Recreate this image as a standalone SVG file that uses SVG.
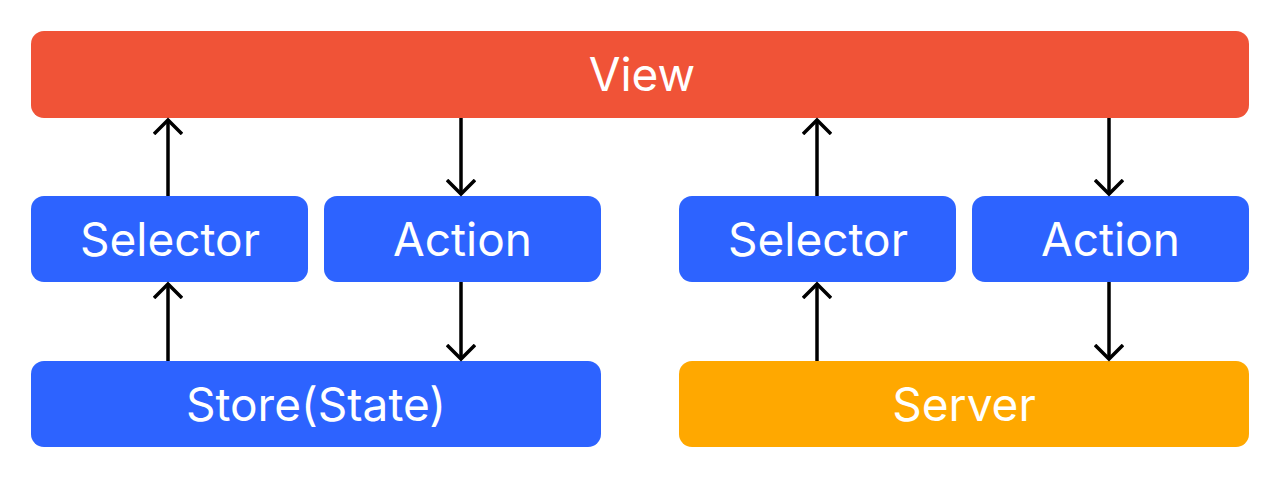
<svg xmlns="http://www.w3.org/2000/svg" width="1280" height="479" viewBox="0 0 1280 479">
<defs>
<style>
.t{font-family:Inter,"Noto Sans","Liberation Sans",sans-serif;font-size:46px;fill:#fff;text-anchor:middle;}
.c{stroke:#000;stroke-width:3.5;fill:none;}
</style>
<marker id="ah" viewBox="0 0 30 30" refX="15" refY="15" markerWidth="30" markerHeight="30" markerUnits="userSpaceOnUse" orient="auto">
<path d="M1,1 L15,15 L1,29" fill="none" stroke="#000" stroke-width="3.5" stroke-linejoin="miter"/>
</marker>
</defs>
<rect width="1280" height="479" fill="#fff"/>
<g id="view"><rect x="31" y="31" width="1218" height="87" rx="13" fill="#F05337"/><text class="t" x="642" y="91">View</text></g>
<g id="selector-left"><rect x="31" y="196" width="277" height="86" rx="13" fill="#2D63FF"/><text class="t" x="170" y="256">Selector</text></g>
<g id="action-left"><rect x="324" y="196" width="277" height="86" rx="13" fill="#2D63FF"/><text class="t" x="462.500" y="256">Action</text></g>
<g id="store"><rect x="31" y="361" width="570" height="86" rx="13" fill="#2D63FF"/><text class="t" x="316" y="421">Store(State)</text></g>
<g id="selector-right"><rect x="679" y="196" width="277" height="86" rx="13" fill="#2D63FF"/><text class="t" x="818" y="256">Selector</text></g>
<g id="action-right"><rect x="972" y="196" width="277" height="86" rx="13" fill="#2D63FF"/><text class="t" x="1110.500" y="256">Action</text></g>
<g id="server"><rect x="679" y="361" width="570" height="86" rx="13" fill="#FFA800"/><text class="t" x="964" y="421">Server</text></g>
<g id="connectors">
<line class="c" x1="168" y1="196" x2="168" y2="120" marker-end="url(#ah)"/>
<line class="c" x1="461" y1="118" x2="461" y2="194" marker-end="url(#ah)"/>
<line class="c" x1="168" y1="361" x2="168" y2="284" marker-end="url(#ah)"/>
<line class="c" x1="461" y1="282" x2="461" y2="359" marker-end="url(#ah)"/>
<line class="c" x1="817" y1="196" x2="817" y2="120" marker-end="url(#ah)"/>
<line class="c" x1="1109" y1="118" x2="1109" y2="194" marker-end="url(#ah)"/>
<line class="c" x1="817" y1="361" x2="817" y2="284" marker-end="url(#ah)"/>
<line class="c" x1="1109" y1="282" x2="1109" y2="359" marker-end="url(#ah)"/>
</g>
</svg>
